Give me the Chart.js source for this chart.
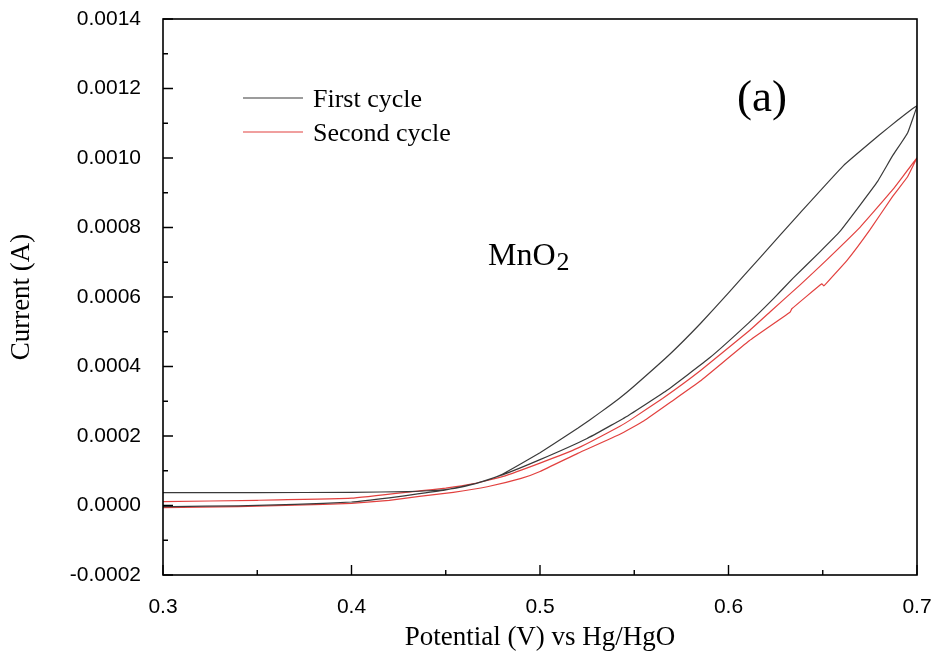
<!DOCTYPE html>
<html>
<head>
<meta charset="utf-8">
<script src="https://cdn.jsdelivr.net/npm/chart.js@4"></script>
<style>
  html, body { margin: 0; padding: 0; background: #ffffff; }
  #wrap { width: 937px; height: 663px; }
</style>
</head>
<body>
<div id="wrap"><canvas id="c" width="937" height="663"></canvas></div>
<script>
// ---- Data ----
// First cycle (black): potential (V) and current (A), closed loop
const firstCycleV = [0.300, 0.350, 0.400, 0.430, 0.450, 0.460, 0.472, 0.480, 0.489, 0.500, 0.507, 0.520, 0.532, 0.542, 0.550, 0.569, 0.585, 0.600, 0.617, 0.638, 0.661, 0.680, 0.690, 0.700,
                     0.695, 0.687, 0.679, 0.670, 0.659, 0.6485, 0.634, 0.624, 0.611, 0.590, 0.567, 0.546, 0.525, 0.500, 0.480, 0.465, 0.450, 0.436, 0.420, 0.400, 0.370, 0.340, 0.305, 0.300];
const firstCycleI = [0.000037, 0.000037, 0.000038, 0.000040, 0.000046, 0.000055, 0.000073, 0.000090, 0.000117, 0.000152, 0.000176, 0.000222, 0.000268, 0.000308, 0.000344, 0.000436, 0.000523, 0.000612, 0.000715, 0.000842, 0.000978, 0.001066, 0.001110, 0.001150,
                     0.001072, 0.001006, 0.000932, 0.000866, 0.000788, 0.000730, 0.000653, 0.000596, 0.000527, 0.000425, 0.000330, 0.000256, 0.000193, 0.000132, 0.000088, 0.000062, 0.000045, 0.000034, 0.000022, 0.000010, 0.000003, -0.000001, -0.000003, -0.000003];
// Second cycle (red)
const secondCycleV = [0.300, 0.340, 0.370, 0.400, 0.420, 0.436, 0.454, 0.472, 0.490, 0.500, 0.520, 0.5424, 0.555, 0.570, 0.585, 0.611, 0.6326, 0.6336, 0.6495, 0.6505, 0.652, 0.663, 0.675, 0.687, 0.695, 0.700,
                      0.687, 0.670, 0.6485, 0.638, 0.622, 0.611, 0.585, 0.565, 0.549, 0.5424, 0.520, 0.500, 0.480, 0.465, 0.450, 0.436, 0.400, 0.350, 0.300];
const secondCycleI = [-0.000006, -0.000003, 0.000001, 0.000006, 0.000015, 0.000026, 0.000038, 0.000054, 0.000078, 0.000098, 0.000150, 0.000205, 0.000243, 0.000300, 0.000358, 0.000474, 0.000556, 0.000566, 0.000638, 0.000632, 0.000640, 0.000706, 0.000793, 0.000889, 0.000946, 0.001000,
                      0.000908, 0.000802, 0.000688, 0.000635, 0.000557, 0.000503, 0.000388, 0.000308, 0.000250, 0.000228, 0.000165, 0.000122, 0.000083, 0.000063, 0.000050, 0.000042, 0.000021, 0.000015, 0.000011];

const seriesNames = ['First cycle', 'Second cycle'];
const xTickValues = [0.3, 0.4, 0.5, 0.6, 0.7];
const yTickValues = [-0.0002, 0.0000, 0.0002, 0.0004, 0.0006, 0.0008, 0.0010, 0.0012, 0.0014];

const BLACK = '#3a3a3a';
const RED = '#e2413f';

function toPoints(xs, ys) { return xs.map((x, i) => ({ x: x, y: ys[i] })); }

// Plugin: frame, inward ticks (major + minor), legend and annotations
const decorPlugin = {
  id: 'decor',
  afterDraw(chart) {
    const ctx = chart.ctx;
    const a = chart.chartArea;
    const xs = chart.scales.x, ys = chart.scales.y;
    ctx.save();
    ctx.strokeStyle = '#000';
    ctx.lineWidth = 1.6;
    ctx.strokeRect(a.left, a.top, a.right - a.left, a.bottom - a.top);
    ctx.lineWidth = 1.4;
    ctx.beginPath();
    for (let i = 0; i < xTickValues.length; i++) {
      const px = xs.getPixelForValue(xTickValues[i]);
      ctx.moveTo(px, a.bottom); ctx.lineTo(px, a.bottom - 10);
      if (i < xTickValues.length - 1) {
        const mx = xs.getPixelForValue((xTickValues[i] + xTickValues[i + 1]) / 2);
        ctx.moveTo(mx, a.bottom); ctx.lineTo(mx, a.bottom - 5);
      }
    }
    for (let i = 0; i < yTickValues.length; i++) {
      const py = ys.getPixelForValue(yTickValues[i]);
      ctx.moveTo(a.left, py); ctx.lineTo(a.left + 10, py);
      if (i < yTickValues.length - 1) {
        const my = ys.getPixelForValue((yTickValues[i] + yTickValues[i + 1]) / 2);
        ctx.moveTo(a.left, my); ctx.lineTo(a.left + 5, my);
      }
    }
    ctx.stroke();

    // legend
    const legendColors = [BLACK, RED];
    ctx.font = '26px "Liberation Serif", "Times New Roman", serif';
    ctx.textAlign = 'left';
    ctx.textBaseline = 'alphabetic';
    for (let i = 0; i < seriesNames.length; i++) {
      const ly = 98 + i * 34;
      ctx.strokeStyle = legendColors[i];
      ctx.lineWidth = 1.2;
      ctx.beginPath(); ctx.moveTo(243, ly); ctx.lineTo(303, ly); ctx.stroke();
      ctx.fillStyle = '#000';
      ctx.fillText(seriesNames[i], 313, ly + 9);
    }

    // annotations anchored to data space
    ctx.fillStyle = '#000';
    ctx.font = '45px "Liberation Serif", "Times New Roman", serif';
    ctx.fillText('(a)', xs.getPixelForValue(0.6045), ys.getPixelForValue(0.001135));
    const mx = xs.getPixelForValue(0.4724), my = ys.getPixelForValue(0.000692);
    ctx.font = '32px "Liberation Serif", "Times New Roman", serif';
    ctx.fillText('MnO', mx, my);
    const w = ctx.measureText('MnO').width;
    ctx.font = '26px "Liberation Serif", "Times New Roman", serif';
    ctx.fillText('2', mx + w + 1, my + 5);
    ctx.restore();
  }
};

new Chart(document.getElementById('c'), {
  type: 'scatter',
  data: {
    datasets: [
      { label: seriesNames[0], data: toPoints(firstCycleV, firstCycleI), showLine: true, borderColor: BLACK, borderWidth: 1.2, pointRadius: 0, tension: 0.1, fill: false },
      { label: seriesNames[1], data: toPoints(secondCycleV, secondCycleI), showLine: true, borderColor: RED, borderWidth: 1.2, pointRadius: 0, tension: 0.1, fill: false }
    ]
  },
  options: {
    responsive: false,
    animation: false,
    devicePixelRatio: 1,
    layout: { padding: { top: 19, right: 20, left: 0, bottom: 0 } },
    plugins: { legend: { display: false }, tooltip: { enabled: false } },
    scales: {
      x: {
        type: 'linear', min: 0.3, max: 0.7,
        afterFit(s) { s.height = 88; s.paddingLeft = 0; s.paddingRight = 0; },
        afterBuildTicks(s) { s.ticks = xTickValues.map(v => ({ value: v })); },
        grid: { display: false },
        border: { display: false },
        ticks: { padding: 12, color: '#000', font: { family: '"Liberation Sans", Arial, sans-serif', size: 21 }, callback: v => Number(v).toFixed(1) },
        title: { display: true, text: 'Potential (V) vs Hg/HgO', color: '#000', padding: { top: 0, bottom: 9 }, font: { family: '"Liberation Serif", "Times New Roman", serif', size: 27 } }
      },
      y: {
        type: 'linear', min: -0.0002, max: 0.0014,
        afterFit(s) { s.width = 163; s.paddingTop = 0; s.paddingBottom = 0; },
        afterBuildTicks(s) { s.ticks = yTickValues.map(v => ({ value: v })); },
        grid: { display: false },
        border: { display: false },
        ticks: { padding: 14, color: '#000', font: { family: '"Liberation Sans", Arial, sans-serif', size: 21 }, callback: v => (Math.abs(v) < 1e-12 ? 0 : Number(v)).toFixed(4) },
        title: { display: true, text: 'Current (A)', color: '#000', padding: { top: 6, bottom: 0 }, font: { family: '"Liberation Serif", "Times New Roman", serif', size: 27 } }
      }
    }
  },
  plugins: [decorPlugin]
});
</script>
</body>
</html>
